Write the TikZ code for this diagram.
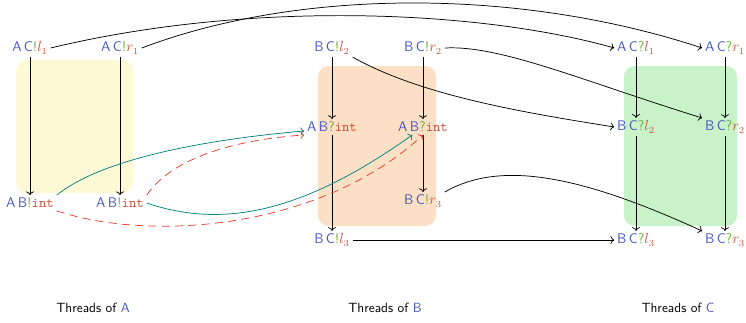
\documentclass[tikz,border=0pt]{standalone}
\usetikzlibrary{arrows.meta}
\definecolor{cblue}{RGB}{68,88,190}
\definecolor{cgreen}{RGB}{110,170,60}
\definecolor{cred}{RGB}{205,80,60}
\definecolor{fillY}{RGB}{255,249,214}
\definecolor{fillO}{RGB}{252,224,198}
\definecolor{fillG}{RGB}{200,243,200}
\definecolor{cteal}{RGB}{0,128,128}
\definecolor{cdash}{RGB}{230,60,45}
\newcommand\thr[4]{{\sffamily\textcolor{cblue}{#1\,#2}\textcolor{cgreen}{#3}}\textcolor{cred}{#4}}
\newcommand\tint{\texttt{int}}
\begin{document}
\begin{tikzpicture}[x=0.75pt,y=-0.75pt,
  lbl/.style={inner sep=2pt,font=\fontsize{10.5}{12}\selectfont},
  captxt/.style={font=\sffamily},
  ar/.style={->,black,line width=0.55pt},
  tl/.style={->,cteal,line width=0.55pt},
  rd/.style={->,cdash,line width=0.55pt,dash pattern=on 6pt off 4pt},
  bx/.style={rounded corners=8pt}]
\useasboundingbox (0,0) rectangle (746,322);
% boxes
\fill[fillY,bx] (16,60) rectangle (133,193);
\fill[fillO,bx] (318,66) rectangle (436,226);
\fill[fillG,bx] (624,66) rectangle (737,226);
% column A
\node[lbl] (ACl1) at (30,48) {\thr{A}{C}{!}{$l_1$}};
\node[lbl] (ACr1) at (120,48) {\thr{A}{C}{!}{$r_1$}};
\node[lbl] (ABiL) at (30,203) {\thr{A}{B}{!}{\tint}};
\node[lbl] (ABiR) at (120,203) {\thr{A}{B}{!}{\tint}};
% column B
\node[lbl] (BCl2) at (332,48) {\thr{B}{C}{!}{$l_2$}};
\node[lbl] (BCr2) at (423,48) {\thr{B}{C}{!}{$r_2$}};
\node[lbl] (ABqL) at (332,127) {\thr{A}{B}{?}{\tint}};
\node[lbl] (ABqR) at (423,127) {\thr{A}{B}{?}{\tint}};
\node[lbl] (BCr3) at (423,201) {\thr{B}{C}{!}{$r_3$}};
\node[lbl] (BCl3) at (332,240) {\thr{B}{C}{!}{$l_3$}};
% column C
\node[lbl] (CAl1) at (636,48) {\thr{A}{C}{?}{$l_1$}};
\node[lbl] (CAr1) at (725,48) {\thr{A}{C}{?}{$r_1$}};
\node[lbl] (CBl2) at (636,127) {\thr{B}{C}{?}{$l_2$}};
\node[lbl] (CBr2) at (725,127) {\thr{B}{C}{?}{$r_2$}};
\node[lbl] (CBl3) at (636,240) {\thr{B}{C}{?}{$l_3$}};
\node[lbl] (CBr3) at (725,240) {\thr{B}{C}{?}{$r_3$}};
% captions
\node[captxt] (capA) at (93,308) {Threads of \textcolor{cblue}{A}};
\node[captxt] (capB) at (385,308) {Threads of \textcolor{cblue}{B}};
\node[captxt] (capC) at (678,308) {Threads of \textcolor{cblue}{C}};
% vertical arrows
\draw[ar] (ACl1) -- (ABiL);
\draw[ar] (ACr1) -- (ABiR);
\draw[ar] (BCl2) -- (ABqL);
\draw[ar] (ABqL) -- (BCl3);
\draw[ar] (BCr2) -- (ABqR);
\draw[ar] (ABqR) -- (BCr3);
\draw[ar] (CAl1) -- (CBl2);
\draw[ar] (CBl2) -- (CBl3);
\draw[ar] (CAr1) -- (CBr2);
\draw[ar] (CBr2) -- (CBr3);
% long arrows
\draw[ar] (ACl1.east) .. controls (250,0) and (480,10) .. (CAl1.west);
\draw[ar] (ACr1.east) .. controls (300,-12) and (520,-12) .. (CAr1.west);
\draw[ar] (BCl2.south east) .. controls (420,95) and (520,112) .. (CBl2.west);
\draw[ar] (BCr2.east) .. controls (500,45) and (580,80) .. (CBr2.north west);
\draw[ar] (BCr3.north east) .. controls (500,160) and (580,175) .. (CBr3.north west);
\draw[ar] (BCl3) -- (CBl3);
% teal
\draw[tl] (ABiL.north east) .. controls (100,160) and (200,140) .. ([yshift=-3pt]ABqL.west);
\draw[tl] (ABiR.east) .. controls (220,228) and (300,215) .. ([xshift=-8pt]ABqR.south);
% red dashed
\draw[rd] (ABiR.north east) .. controls (170,160) and (230,140) .. ([yshift=-6pt]ABqL.west);
\draw[rd] (ABiL.south east) .. controls (150,242) and (320,230) .. ([xshift=0pt]ABqR.south);
\end{tikzpicture}
\end{document}
